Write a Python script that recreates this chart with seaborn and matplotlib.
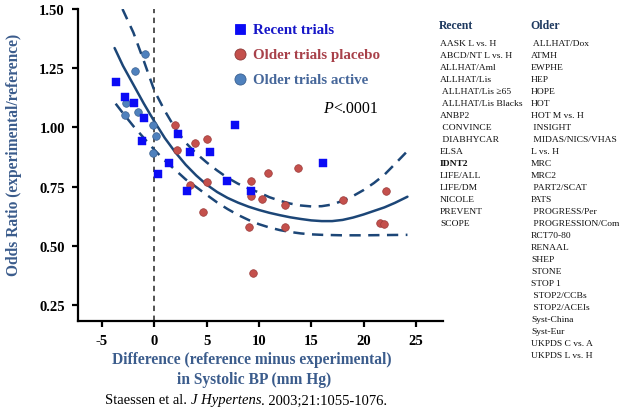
import matplotlib
matplotlib.use("Agg")
import matplotlib.pyplot as plt
from matplotlib.lines import Line2D
import seaborn as sns
import pandas as pd

# Recent trials (blue squares)
recent_x = [-3.71, -2.81, -1.98, -0.96, -1.15, 2.27, 3.45, 5.30, 1.44, 0.38, 3.16, 6.93, 9.23, 7.70, 16.11]
recent_y = [1.193, 1.130, 1.102, 1.040, 0.941, 0.972, 0.894, 0.895, 0.851, 0.803, 0.731, 0.774, 0.732, 1.008, 0.851]

# Older trials, placebo (red circles)
placebo_x = [2.01, 3.93, 4.99, 2.18, 3.37, 5.05, 9.28, 10.86, 13.71, 9.22,
             10.28, 12.54, 4.68, 9.06, 12.48, 18.07, 22.15, 21.57, 21.98, 9.44]
placebo_y = [1.011, 0.934, 0.949, 0.904, 0.758, 0.768, 0.774, 0.808, 0.828, 0.708,
             0.697, 0.673, 0.641, 0.581, 0.580, 0.693, 0.733, 0.596, 0.591, 0.386]

# Older trials, active (steel-blue circles)
active_x = [-0.86, -1.87, -2.75, -2.83, -1.54, -0.11, 0.18, -0.11]
active_y = [1.309, 1.237, 1.102, 1.051, 1.064, 1.010, 0.963, 0.893]

# fitted curve and its confidence band
fit_x = [-3.8, -3.0, -2.0, -1.0, 0.0, 1.0, 2.0, 3.0, 4.0, 5.0, 6.0, 7.0, 8.0, 9.0, 10.0,
         11.0, 12.0, 13.0, 14.0, 15.0, 16.0, 17.0, 18.0, 19.0, 20.0, 21.0, 22.0, 23.0, 24.2]
fit_y = [1.335, 1.26, 1.18, 1.10, 1.025, 0.955, 0.895, 0.842, 0.797, 0.758, 0.727, 0.702, 0.682,
         0.665, 0.651, 0.639, 0.629, 0.620, 0.613, 0.607, 0.604, 0.604, 0.609, 0.619, 0.632,
         0.647, 0.662, 0.681, 0.707]
upper_x = [-3.05, -2.0, -1.0, 0.0, 1.0, 2.0, 3.0, 4.0, 5.0, 6.0, 7.0, 8.0, 9.0, 10.0, 11.0,
           12.0, 13.0, 14.0, 15.0, 16.0, 17.0, 18.0, 19.0, 20.0, 21.0, 22.0, 23.0, 24.2]
upper_y = [1.50, 1.40, 1.28, 1.155, 1.07, 0.995, 0.935, 0.89, 0.852, 0.818, 0.787, 0.762, 0.742,
           0.725, 0.705, 0.690, 0.678, 0.670, 0.666, 0.667, 0.674, 0.690, 0.710, 0.735, 0.765,
           0.800, 0.845, 0.900]
lower_x = [-3.7, -3.0, -2.0, -1.0, 0.0, 1.0, 2.0, 3.0, 4.0, 5.0, 6.0, 7.0, 8.0, 9.0, 10.0,
           11.0, 12.0, 13.0, 14.0, 15.0, 16.0, 18.0, 20.0, 22.0, 24.2]
lower_y = [1.10, 1.06, 1.005, 0.955, 0.905, 0.86, 0.82, 0.78, 0.748, 0.715, 0.683, 0.655, 0.630,
           0.609, 0.591, 0.577, 0.566, 0.558, 0.552, 0.548, 0.546, 0.544, 0.544, 0.545, 0.546]

y_ticks = [0.25, 0.50, 0.75, 1.00, 1.25, 1.50]
x_ticks = [-5, 0, 5, 10, 15, 20, 25]

recent_names = ["AASK L vs. H", "ABCD/NT L vs. H", "ALLHAT/Aml", "ALLHAT/Lis", " ALLHAT/Lis \u226565",
                " ALLHAT/Lis Blacks", "ANBP2", " CONVINCE", " DIABHYCAR", "ELSA", "IDNT2",
                "LIFE/ALL", "LIFE/DM", "NICOLE", "PREVENT", "SCOPE"]
older_names = [" ALLHAT/Dox", "ATMH", "EWPHE", "HEP", "HOPE", "HOT", "HOT M vs. H", " INSIGHT",
               " MIDAS/NICS/VHAS", "L vs. H", "MRC", "MRC2", " PART2/SCAT", "PATS", " PROGRESS/Per",
               " PROGRESSION/Com", "RCT70-80", "RENAAL", "SHEP", "STONE", "STOP 1", " STOP2/CCBs",
               " STOP2/ACEIs", "Syst-China", "Syst-Eur", "UKPDS C vs. A", "UKPDS L vs. H"]

W, H = 624, 414
SERIF = ["Liberation Serif", "DejaVu Serif"]
CURVE = "#1c4677"
LABEL_BLUE = "#3b5c8c"

sns.set_style("ticks")
plt.rcParams["font.family"] = SERIF
plt.rcParams["axes.unicode_minus"] = False

fig = plt.figure(figsize=(W / 100, H / 100), dpi=100)
ax = fig.add_axes([78 / W, 1 - 322 / H, (443 - 78) / W, (322 - 10) / H])


def px(x, y):
    return x / W, 1 - y / H


recent = pd.DataFrame({"x": recent_x, "y": recent_y})
placebo = pd.DataFrame({"x": placebo_x, "y": placebo_y})
active = pd.DataFrame({"x": active_x, "y": active_y})

ax.axvline(0, color="#444444", lw=1.3, ls=(0, (3, 2.5)), zorder=1)

sns.lineplot(x=fit_x, y=fit_y, ax=ax, sort=False, color=CURVE, lw=1.8, zorder=2)
sns.lineplot(x=upper_x, y=upper_y, ax=ax, sort=False, color=CURVE, lw=1.8, zorder=2)
ax.lines[-1].set_linestyle((0, (4.5, 3)))
sns.lineplot(x=lower_x, y=lower_y, ax=ax, sort=False, color=CURVE, lw=1.8, zorder=2)
ax.lines[-1].set_linestyle((0, (4.5, 3)))

sns.scatterplot(data=placebo, x="x", y="y", ax=ax, marker="o", s=30, color="#c4504c",
                edgecolor="#9a3b3a", linewidth=0.5, zorder=3)
sns.scatterplot(data=active, x="x", y="y", ax=ax, marker="o", s=30, color="#4f81bd",
                edgecolor="#3a6090", linewidth=0.5, zorder=3)
sns.scatterplot(data=recent, x="x", y="y", ax=ax, marker="s", s=34, color="#0b0bf5",
                edgecolor="#0b0bf5", linewidth=0.3, zorder=4)

ax.set_xlim(-7.3, 27.6)
ax.set_ylim(0.182, 1.50)
ax.set_xticks(x_ticks)
ax.set_yticks(y_ticks)
ax.set_yticklabels([f"{v:.2f}" for v in y_ticks])
ax.set_xlabel("")
ax.set_ylabel("")
for s in ["top", "right"]:
    ax.spines[s].set_visible(False)
for s in ["left", "bottom"]:
    ax.spines[s].set_linewidth(1.6)
    ax.spines[s].set_color("black")
ax.tick_params(axis="both", direction="out", length=4.5, width=1.6, colors="black",
               labelsize=10.5, pad=5)
for lab in ax.get_xticklabels() + ax.get_yticklabels():
    lab.set_fontweight("bold")

# axis titles
fig.text(*px(14, 155), "Odds Ratio (experimental/reference)", rotation=90, ha="center",
         va="center", color=LABEL_BLUE, fontsize=11.2, fontweight="bold")
fig.text(*px(252, 360), "Difference (reference minus experimental)", ha="center", va="center",
         color=LABEL_BLUE, fontsize=11.2, fontweight="bold")
fig.text(*px(254, 380), "in Systolic BP (mm Hg)", ha="center", va="center",
         color=LABEL_BLUE, fontsize=11.2, fontweight="bold")

renderer = fig.canvas.get_renderer()


def run_text(x0, y0, parts, **kw):
    x = x0
    for txt, style in parts:
        t = fig.text(*px(x, y0), txt, ha="left", va="center", style=style, **kw)
        bb = t.get_window_extent(renderer=renderer)
        x += bb.width


run_text(105, 401, [("Staessen et al. ", "normal"), ("J Hypertens", "italic"),
                    (". 2003;21:1055-1076.", "normal")], fontsize=10.5, color="black")
run_text(323, 109, [("P", "italic"), ("<.0001", "normal")], fontsize=11.5, color="black")

# legend drawn by hand
legend_rows = [("Recent trials", "s", "#0b0bf5", "#0b0bf5", "#1616c8", 30),
               ("Older trials placebo", "o", "#c4504c", "#8c3a38", "#a8414a", 55),
               ("Older trials active", "o", "#4f81bd", "#3a6090", "#46679a", 80)]
for label, mk, fc, ec, tc, yy in legend_rows:
    mx, my = px(240, yy)
    fig.add_artist(Line2D([mx], [my], marker=mk, markersize=7.5 if mk == "s" else 8,
                          markerfacecolor=fc, markeredgecolor=ec, markeredgewidth=0.6,
                          linestyle="none", transform=fig.transFigure))
    fig.text(*px(253, yy), label, ha="left", va="center", color=tc, fontsize=10.8,
             fontweight="bold")

# trial lists
HEAD = "#1f3a60"
fig.text(*px(439, 26), "Recent", ha="left", va="center", color=HEAD, fontsize=8.5,
         fontweight="bold")
fig.text(*px(530, 26), "Older", ha="left", va="center", color=HEAD, fontsize=8.5,
         fontweight="bold")
for i, name in enumerate(recent_names):
    fig.text(*px(440, 44 + 12 * i), name, ha="left", va="center", color="#111111",
             fontsize=6.8, fontweight="bold" if name == "IDNT2" else "normal",
             family=SERIF)
for i, name in enumerate(older_names):
    fig.text(*px(531, 44 + 12 * i), name, ha="left", va="center", color="#111111",
             fontsize=6.8, family=SERIF)

fig.savefig("out.png", dpi=100)
